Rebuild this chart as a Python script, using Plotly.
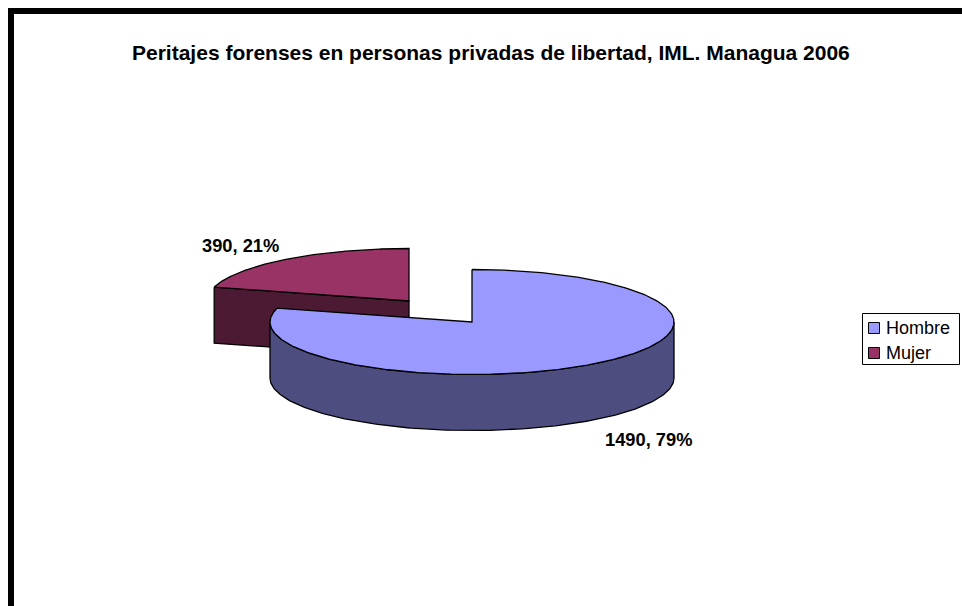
import numpy as np
import plotly.graph_objects as go

categories = ["Hombre", "Mujer"]
values = [1490, 390]
colors_top = ["#9999FF", "#993366"]
colors_side = ["#4D4D80", "#4D1A33"]
heading = "Gráfico No. 2.11.1"
title = "Peritajes forenses en personas privadas de libertad, IML. Managua 2006"

total = sum(values)
pct = [v / total for v in values]
RX, RY, DEPTH = 202, 52.5, 56
CENTERS = [(472, 322), (409, 301)]
end_angle = 360 * pct[0]
FONT = "Liberation Sans"


def pt(c, ang, dy=0):
    a = np.radians(ang)
    return c[0] + RX * np.sin(a), c[1] - RY * np.cos(a) + dy


def arc(c, a0, a1, dy=0, n=160):
    ang = np.linspace(a0, a1, n)
    return pt(c, ang, dy)


def poly(fig, xs, ys, fill):
    fig.add_trace(go.Scatter(x=list(xs), y=list(ys), mode="lines", fill="toself",
                             fillcolor=fill, line=dict(color="#000000", width=1.3),
                             showlegend=False, hoverinfo="skip"))


fig = go.Figure()

# Mujer wedge: radial side face, then top
c = CENTERS[1]
cx, cy = pt(c, end_angle)
poly(fig, [cx, c[0], c[0], cx, cx], [cy, c[1], c[1] + DEPTH, cy + DEPTH, cy], colors_side[1])
x, y = arc(c, end_angle, 360)
poly(fig, [*x, c[0], x[0]], [*y, c[1], y[0]], colors_top[1])

# Hombre wedge: outer side wall, then top
c = CENTERS[0]
x0, y0 = arc(c, 90, 270)
x1, y1 = arc(c, 270, 90, DEPTH)
poly(fig, [*x0, *x1, x0[0]], [*y0, *y1, y0[0]], colors_side[0])
x, y = arc(c, 0, end_angle, n=400)
poly(fig, [*x, c[0], x[0]], [*y, c[1], y[0]], colors_top[0])


def label(x, y, text, size, anchor="center", bold=True):
    return dict(x=x, y=y, text=f"<b>{text}</b>" if bold else text, showarrow=False,
                xanchor=anchor, yanchor="middle",
                font=dict(family=FONT, size=size, color="#000000"))


annotations = [
    label(485.5, -5, heading, 25),
    label(491, 52, title, 21),
    label(240, 245, f"{values[1]}, {pct[1]:.0%}", 18.3),
    label(648, 439, f"{values[0]}, {pct[0]:.0%}", 18.3),
]
shapes = [
    dict(type="rect", x0=8, x1=14, y0=8, y1=606, fillcolor="#000000", line_width=0, layer="below"),
    dict(type="rect", x0=8, x1=962, y0=8, y1=14, fillcolor="#000000", line_width=0, layer="below"),
    dict(type="rect", x0=862.5, x1=959.5, y0=313.5, y1=364.5, fillcolor="#FFFFFF",
         line=dict(color="#000000", width=1)),
]
for name, col, yc in zip(categories, colors_top, [328, 353]):
    shapes.append(dict(type="rect", x0=868.5, x1=879.5, y0=yc - 5.5, y1=yc + 5.5, fillcolor=col,
                       line=dict(color="#000000", width=1)))
    annotations.append(label(884, yc, name, 18, anchor="left", bold=False))

fig.update_layout(
    width=962, height=606, margin=dict(l=0, r=0, t=0, b=0),
    paper_bgcolor="#FFFFFF", plot_bgcolor="#FFFFFF",
    xaxis=dict(range=[0, 962], visible=False, fixedrange=True),
    yaxis=dict(range=[606, 0], visible=False, fixedrange=True),
    annotations=annotations, shapes=shapes, showlegend=False,
)
fig.write_html("out.html", config=dict(displayModeBar=False),
               post_script="document.body.style.margin='0';")
